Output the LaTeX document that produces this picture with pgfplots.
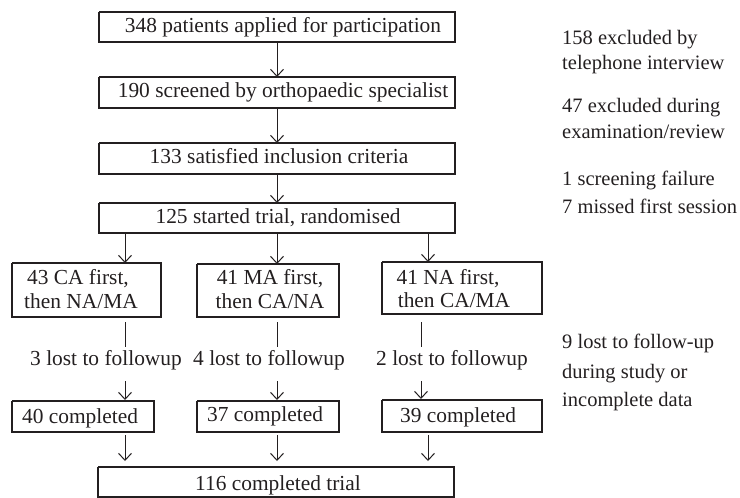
\documentclass[border=0pt]{standalone}
\usepackage{pgfplots}
\pgfplotsset{compat=1.18}
\usepackage{fontspec}
\setmainfont{Liberation Serif}
\usetikzlibrary{arrows.meta}
\definecolor{ink}{RGB}{35,31,32}
\tikzset{
  box/.style={ink, line width=1.2bp},
  seg/.style={ink, line width=1.0bp},
  arr/.style={ink, line width=1.0bp, -{Straight Barb[length=7bp,width=13bp,line width=1.0bp]}},
  lbl/.style={anchor=base, inner sep=0pt, font=\fontsize{21.4bp}{25bp}\selectfont, text=ink},
  lbll/.style={anchor=base west, inner sep=0pt, font=\fontsize{20.5bp}{25bp}\selectfont, text=ink},
}
\begin{document}
\begin{tikzpicture}
\begin{axis}[
  width=740bp, height=498bp, scale only axis,
  xmin=0, xmax=740, ymin=0, ymax=498, y dir=reverse,
  hide axis, clip=false,
]
% main boxes
\addplot[box] coordinates {(99,12) (455,12) (455,42) (99,42) (99,12)};
\addplot[box] coordinates {(99,77) (455,77) (455,108) (99,108) (99,77)};
\addplot[box] coordinates {(99,143) (455,143) (455,174) (99,174) (99,143)};
\addplot[box] coordinates {(99,203) (455,203) (455,233) (99,233) (99,203)};
% arm boxes
\addplot[box] coordinates {(12,263) (161,263) (161,317) (12,317) (12,263)};
\addplot[box] coordinates {(197,264) (339,264) (339,317) (197,317) (197,264)};
\addplot[box] coordinates {(382,262) (542,262) (542,314) (382,314) (382,262)};
% completed boxes
\addplot[box] coordinates {(12,401) (154,401) (154,432) (12,432) (12,401)};
\addplot[box] coordinates {(197,401) (339,401) (339,432) (197,432) (197,401)};
\addplot[box] coordinates {(382,400) (542,400) (542,432) (382,432) (382,400)};
% final box
\addplot[box] coordinates {(98,467) (454,467) (454,497) (98,497) (98,467)};
% main arrows
\addplot[arr] coordinates {(277,42) (277,77)};
\addplot[arr] coordinates {(277,108) (277,143)};
\addplot[arr] coordinates {(277,174) (277,203)};
% branches
\addplot[arr] coordinates {(125,233) (125,263)};
\addplot[arr] coordinates {(277,233) (277,264)};
\addplot[arr] coordinates {(428,233) (428,262)};
% segments below arm boxes
\addplot[seg] coordinates {(125,322) (125,347)};
\addplot[seg] coordinates {(277,322) (277,347)};
\addplot[seg] coordinates {(421,322) (421,347)};
% arrows to completed
\addplot[arr] coordinates {(125,381) (125,400)};
\addplot[arr] coordinates {(277,381) (277,400)};
\addplot[arr] coordinates {(421,381) (421,399)};
% arrows to final
\addplot[arr] coordinates {(125,435) (125,461)};
\addplot[arr] coordinates {(277,435) (277,461)};
\addplot[arr] coordinates {(428,435) (428,461)};
% texts
\node[lbl] at (axis cs:283,33) {348 patients applied for participation};
\node[lbl] at (axis cs:283,98) {190 screened by orthopaedic specialist};
\node[lbl] at (axis cs:279,163) {133 satisfied inclusion criteria};
\node[lbl] at (axis cs:278,223) {125 started trial, randomised};
\node[lbl] at (axis cs:78,284) {43 CA first,};
\node[lbl] at (axis cs:81,308) {then NA/MA};
\node[lbl] at (axis cs:270,284) {41 MA first,};
\node[lbl] at (axis cs:270,308) {then CA/NA};
\node[lbl] at (axis cs:448,284) {41 NA first,};
\node[lbl] at (axis cs:454,307) {then CA/MA};
\node[lbl] at (axis cs:106,365) {3 lost to followup};
\node[lbl] at (axis cs:269,365) {4 lost to followup};
\node[lbl] at (axis cs:452,365) {2 lost to followup};
\node[lbl] at (axis cs:80,423) {40 completed};
\node[lbl] at (axis cs:265,421) {37 completed};
\node[lbl] at (axis cs:458,422) {39 completed};
\node[lbl] at (axis cs:278,490) {116 completed trial};
\node[lbll] at (axis cs:562,45) {158 excluded by};
\node[lbll] at (axis cs:562,70) {telephone interview};
\node[lbll] at (axis cs:562,113) {47 excluded during};
\node[lbll] at (axis cs:562,138) {examination/review};
\node[lbll] at (axis cs:562,185) {1 screening failure};
\node[lbll] at (axis cs:562,213) {7 missed first session};
\node[lbll] at (axis cs:562,348) {9 lost to follow-up};
\node[lbll] at (axis cs:562,378) {during study or};
\node[lbll] at (axis cs:562,406) {incomplete data};
\end{axis}
\pgfresetboundingbox
\path (0,0) rectangle (740bp,498bp);
\end{tikzpicture}
\end{document}
